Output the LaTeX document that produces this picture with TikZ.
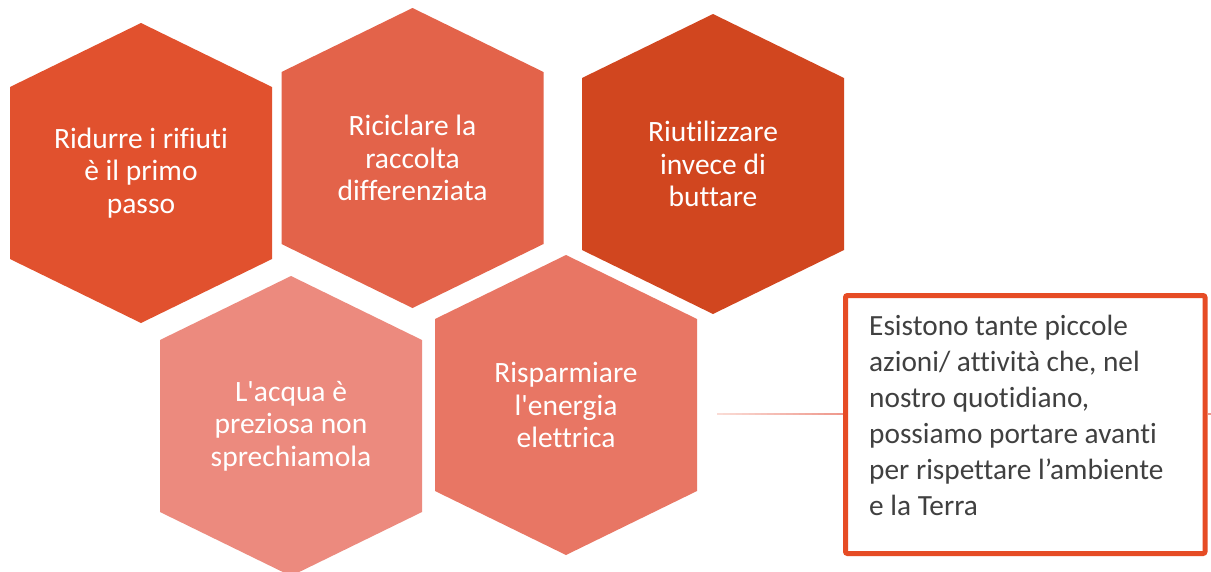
\documentclass[tikz,border=0pt]{standalone}
\usepackage{fontspec}
\setmainfont{Carlito}[Ligatures=NoCommon]
\newfontfamily\hexfont{Carlito}[Ligatures={TeXOff,NoCommon}]
\usetikzlibrary{calc}
\definecolor{hexA}{HTML}{E1512E}
\definecolor{hexB}{HTML}{E3634A}
\definecolor{hexC}{HTML}{D1461F}
\definecolor{hexD}{HTML}{EC8A7E}
\definecolor{hexE}{HTML}{E87664}
\definecolor{boxred}{HTML}{E64C25}
\definecolor{textgray}{HTML}{404040}
\definecolor{lineA}{HTML}{FADBD5}
\definecolor{lineB}{HTML}{EE968A}
\tikzset{
  hextext/.style={text=white, align=center, inner sep=0pt,
    font=\hexfont\fontsize{29.5}{32.5}\selectfont},
  notebox/.style={draw=boxred, line width=5pt, fill=white, rounded corners=2pt,
    minimum width=359.5pt, minimum height=258pt, inner sep=0pt},
  notetext/.style={text=textgray, align=left, anchor=north west, inner sep=0pt,
    font=\fontsize{29.3}{36}\selectfont},
  linkline/.style={line width=2pt}
}
\newcommand\hexnode[4]{%
  \fill[#3, shift={(#2)}] (0,-150) -- (131,-86) -- (131,86) -- (0,150)
    -- (-131,86) -- (-131,-86) -- cycle;
  \node[hextext] (#1) at (#2) {#4};
}
\begin{document}
\begin{tikzpicture}[x=1pt,y=-1pt]
\useasboundingbox (0,0) rectangle (1211,571);
\clip (0,0) rectangle (1211,571);
\fill[white] (0,0) rectangle (1211,571);
\hexnode{h1}{141,173}{hexA}{Ridurre i rifiuti\\è il primo\\passo}
\hexnode{h2}{412.5,158}{hexB}{Riciclare la\\raccolta\\differenziata}
\hexnode{h3}{713,164}{hexC}{Riutilizzare\\invece di\\buttare}
\hexnode{h4}{291,426}{hexD}{L'acqua è\\preziosa non\\sprechiamola}
\hexnode{h5}{566,405}{hexE}{Risparmiare\\l'energia\\elettrica}
\node[notebox] (box) at (1025.25,424.5) {};
\coordinate (lineL) at (717,414);
\coordinate (lineR) at (1211,414);
\coordinate (boxW) at (box.west |- lineL);
\coordinate (boxE) at (box.east |- lineR);
\foreach \i in {0,...,19}{
  \pgfmathsetmacro\pct{\i*5}
  \draw[linkline, draw=lineB!\pct!lineA]
    ($(lineL)!\i/20!(boxW)$) -- ($(lineL)!{(\i+1)/20}!(boxW)$);
}
\draw[linkline, draw=lineB] (boxE) -- (lineR);
\node[notetext] (note) at (869,314.5) {Esistono tante piccole\\azioni/ attività che, nel\\nostro quotidiano,\\possiamo portare avanti\\per rispettare l’ambiente\\e la Terra};
\end{tikzpicture}
\end{document}
